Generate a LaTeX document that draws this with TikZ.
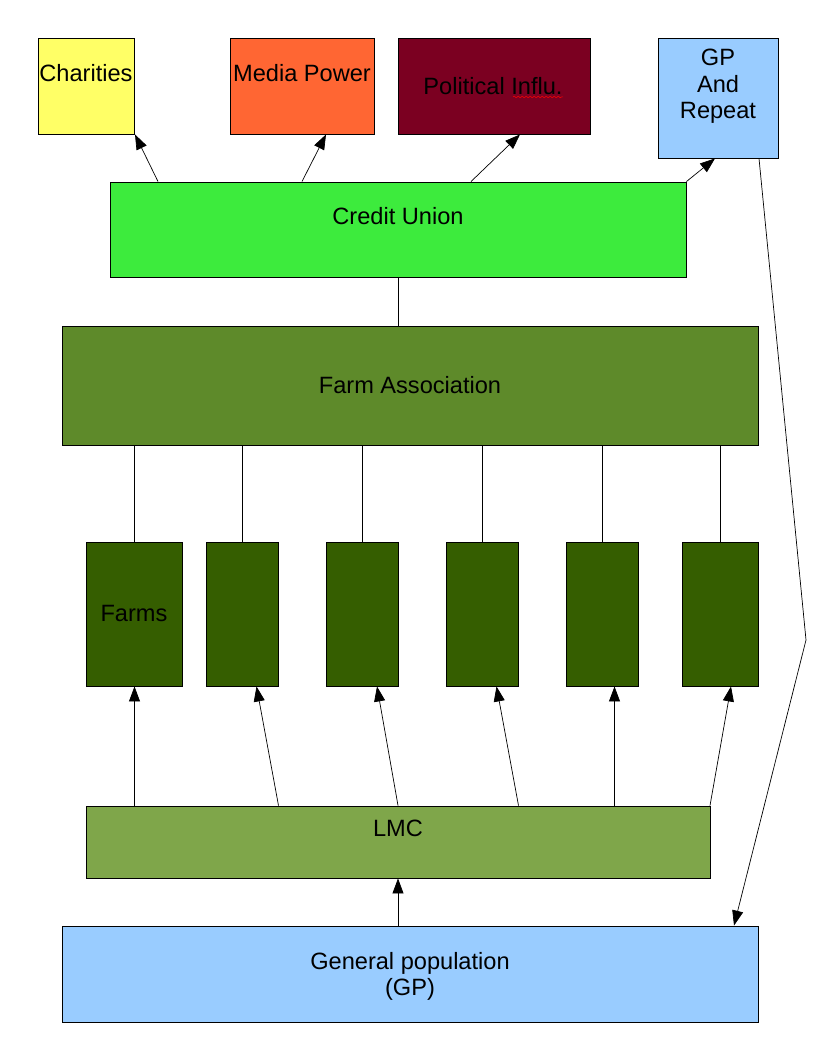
\documentclass[tikz,border=0pt]{standalone}
\usepackage{fontspec}
\setmainfont{Liberation Sans}
\usetikzlibrary{arrows.meta,decorations.pathmorphing}
\definecolor{cyel}{HTML}{FFFF66}
\definecolor{cora}{HTML}{FF6633}
\definecolor{cbord}{HTML}{7B0021}
\definecolor{cblue}{HTML}{99CCFF}
\definecolor{clime}{HTML}{3DEB3D}
\definecolor{cfa}{HTML}{5E8A2A}
\definecolor{cfarm}{HTML}{355E00}
\definecolor{clmc}{HTML}{7FA64A}
\tikzset{
  box/.style={draw=black, line width=0.9pt, rectangle, inner sep=0pt},
  lbl/.style={font=\fontsize{23.6}{26.5}\selectfont, align=center, inner sep=0pt, text=black},
  conn/.style={draw=black, line width=0.7pt},
  arr/.style={conn, -{Triangle[length=15pt,width=11pt]}},
}
\begin{document}
\begin{tikzpicture}[x=1pt,y=-1pt]
\useasboundingbox (0,0) rectangle (816,1056);
\fill[white] (0,0) rectangle (816,1056);
% boxes (x1,y1,x2,y2)
\newcommand{\mybox}[6]{\node[box, fill=#6, minimum width={#4-#2}, minimum height={#5-#3}] (#1) at ({(#2+#4)/2},{(#3+#5)/2}) {};}
\mybox{char}{38}{38}{134}{134}{cyel}
\mybox{media}{230}{38}{374}{134}{cora}
\mybox{pol}{398}{38}{590}{134}{cbord}
\mybox{gpr}{658}{38}{778}{158}{cblue}
\mybox{cu}{110}{182}{686}{277}{clime}
\mybox{fa}{62}{326}{758}{445}{cfa}
\mybox{f1}{86}{542}{182}{686}{cfarm}
\mybox{f2}{206}{542}{278}{686}{cfarm}
\mybox{f3}{326}{542}{398}{686}{cfarm}
\mybox{f4}{446}{542}{518}{686}{cfarm}
\mybox{f5}{566}{542}{638}{686}{cfarm}
\mybox{f6}{682}{542}{758}{686}{cfarm}
\mybox{lmc}{86}{806}{710}{878}{clmc}
\mybox{gp}{62}{926}{758}{1022}{cblue}
% texts
\node[lbl] (tchar) at (86,73) {Charities};
\node[lbl] (tmedia) at (302,73) {Media Power};
\node[lbl] (tpol) at (493,86) {Political Influ.};
\draw[red, line width=0.5pt, decorate, decoration={snake, amplitude=0.8pt, segment length=4pt}] (513,97) -- (563,97);
\node[lbl] (tgpr) at (718,86.5) {GP\\And\\Repeat};
\node[lbl] (tcu) at (398,216.5) {Credit Union};
\node[lbl] (tfa) at (410,385.5) {Farm Association};
\node[lbl] (tfarm) at (134,613.5) {Farms};
\node[lbl] (tlmc) at (398,828.5) {LMC};
\node[lbl] (tgp) at (410,976.5) {General population\\(GP)};
% Credit Union to top boxes
\draw[arr] (cu.north west -| 158,0) -- (char.south west -| 135,0);
\draw[arr] (cu.north west -| 302,0) -- (media.south west -| 326,0);
\draw[arr] (cu.north west -| 471,0) -- (pol.south west -| 520,0);
\draw[arr] (cu.north east) -- (gpr.south west -| 715,0);
% CU - FA
\draw[conn] (cu.south) -- (fa.north -| cu.south);
% FA - farms
\foreach \f/\x in {f1/134,f2/242,f3/362,f4/482,f5/602,f6/720}
  \draw[conn] (fa.south -| \x,0) -- (\f.north -| \x,0);
% LMC -> farms
\foreach \f/\a/\b in {f1/134.5/134.5,f2/278.5/256.5,f3/398/377,f4/518.5/496.5,f5/614.5/614.5,f6/710/731}
  \draw[arr] (lmc.north -| \a,0) -- (\f.south -| \b,0);
% GP -> LMC
\draw[arr] (gp.north -| 398,0) -- (lmc.south -| 398,0);
% GP and Repeat loop back
\coordinate (bend) at (806,640);
\draw[arr] (gpr.south east -| 759,0) -- (bend) -- (gp.north east -| 734,0);
\end{tikzpicture}
\end{document}
